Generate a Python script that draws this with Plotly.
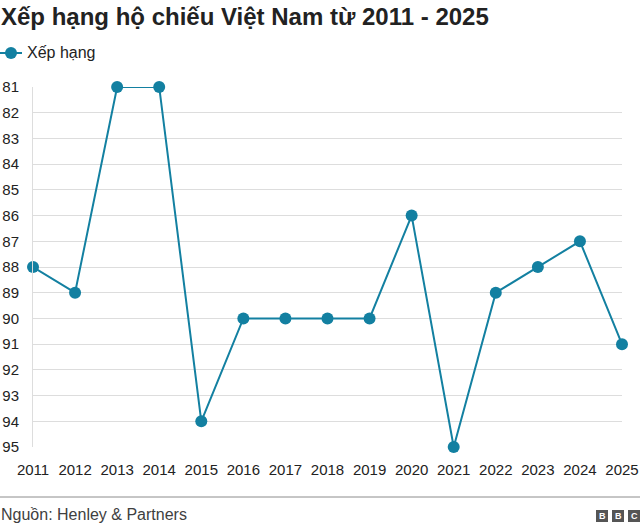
import plotly.graph_objects as go

years = [2011, 2012, 2013, 2014, 2015, 2016, 2017, 2018, 2019, 2020, 2021, 2022, 2023, 2024, 2025]
ranks = [88, 89, 81, 81, 94, 90, 90, 90, 90, 86, 95, 89, 88, 87, 91]
y_ticks = list(range(81, 96))

title_text = "Xếp hạng hộ chiếu Việt Nam từ 2011 - 2025"
series_name = "Xếp hạng"
source_text = "Nguồn: Henley & Partners"

W, H = 640, 528
L, R, T, B = 33, 18, 87, 81
PW = W - L - R
PH = H - T - B

def px(xp):
    return (xp - L) / PW

def py(yp):
    return (H - B - yp) / PH

FONT = "Liberation Sans, Arial, Helvetica, sans-serif"
COLOR = "#1380A1"

fig = go.Figure()
fig.add_trace(go.Scatter(
    x=years, y=ranks, mode="lines+markers", name=series_name,
    line=dict(color=COLOR, width=2),
    marker=dict(color=COLOR, size=12),
    cliponaxis=False, showlegend=False,
))

shapes = [
    dict(type="line", xref="paper", yref="paper", x0=px(0), x1=px(640), y0=py(497), y1=py(497),
         line=dict(color="#8c8c8c", width=1)),
    # legend key
    dict(type="line", xref="paper", yref="paper", x0=px(0), x1=px(22), y0=py(53), y1=py(53),
         line=dict(color=COLOR, width=2)),
    dict(type="circle", xref="paper", yref="paper", x0=px(5), x1=px(17), y0=py(47), y1=py(59),
         fillcolor=COLOR, line=dict(width=0)),
]
annotations = [
    dict(text="<b>" + title_text + "</b>", xref="paper", yref="paper", x=px(-1), y=py(16),
         xanchor="left", yanchor="middle", showarrow=False,
         font=dict(family=FONT, size=24, color="#222222")),
    dict(text=series_name, xref="paper", yref="paper", x=px(25), y=py(53),
         xanchor="left", yanchor="middle", showarrow=False,
         font=dict(family=FONT, size=16, color="#222222")),
    dict(text=source_text, xref="paper", yref="paper", x=px(-1), y=py(514),
         xanchor="left", yanchor="middle", showarrow=False,
         font=dict(family=FONT, size=16, color="#404040")),
]
for i, letter in enumerate(["B", "B", "C"]):
    x0 = 596 + i * 16
    shapes.append(dict(type="rect", xref="paper", yref="paper", x0=px(x0), x1=px(x0 + 12),
                       y0=py(510), y1=py(522), fillcolor="#555555", line=dict(width=0)))
    annotations.append(dict(text="<b>" + letter + "</b>", xref="paper", yref="paper",
                            x=px(x0 + 6), y=py(516), xanchor="center", yanchor="middle",
                            showarrow=False, font=dict(family=FONT, size=9, color="white")))

fig.update_layout(
    width=W, height=H,
    margin=dict(l=L, r=R, t=T, b=B, pad=0, autoexpand=False),
    paper_bgcolor="white", plot_bgcolor="white",
    font=dict(family=FONT, size=15, color="#222222"),
    showlegend=False,
    shapes=shapes,
    annotations=annotations,
)
fig.update_xaxes(range=[2011, 2025], tickvals=years, ticktext=[str(y) for y in years],
                 showgrid=False, zeroline=False, showline=False, ticks="",
                 ticklabelstandoff=12,
                 tickfont=dict(family=FONT, size=15, color="#222222"))
fig.update_yaxes(range=[95, 81], tickvals=y_ticks, showgrid=True, gridcolor="#dddddd",
                 gridwidth=1, zeroline=False, showline=True, linecolor="#dddddd", linewidth=1,
                 ticks="", ticklabelstandoff=10,
                 tickfont=dict(family=FONT, size=15, color="#222222"))

fig.write_html("out.html")
